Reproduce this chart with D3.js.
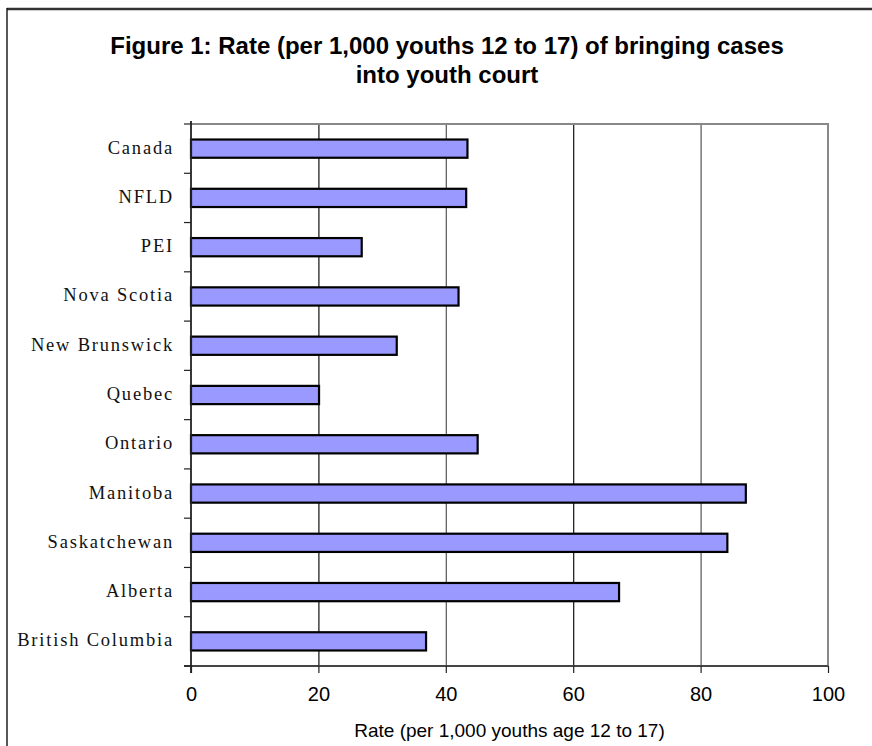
<!DOCTYPE html>
<html>
<head>
<meta charset="utf-8">
<script src="https://cdn.jsdelivr.net/npm/d3@7/dist/d3.min.js"></script>
<style>
  html, body { margin: 0; padding: 0; background: #fff; }
  svg { display: block; }
</style>
</head>
<body>
<svg id="chart" width="872" height="746"></svg>
<script>
// Provinces / regions, top to bottom
const categories = [
  "Canada", "NFLD", "PEI", "Nova Scotia", "New Brunswick", "Quebec",
  "Ontario", "Manitoba", "Saskatchewan", "Alberta", "British Columbia"
];
// Rate per 1,000 youths aged 12 to 17
const rates = [43.4, 43.2, 26.8, 42.0, 32.3, 20.1, 45.0, 87.1, 84.2, 67.2, 36.9];
const xTicks = [0, 20, 40, 60, 80, 100];
const titleLines = [
  "Figure 1: Rate (per 1,000 youths 12 to 17) of bringing cases",
  "into youth court"
];
const xAxisTitle = "Rate (per 1,000 youths age 12 to 17)";

const svg = d3.select("#chart");

const plot = { left: 191, right: 828, top: 124, bottom: 666 };

const x = d3.scaleLinear().domain([0, 100]).range([plot.left, plot.right]);
const y = d3.scaleBand().domain(categories).range([plot.top, plot.bottom]);

// Outer frame (top and left edges)
svg.append("line")
  .attr("x1", 7).attr("x2", 872).attr("y1", 9).attr("y2", 9)
  .attr("stroke", "#333").attr("stroke-width", 2.6);
svg.append("line")
  .attr("x1", 7).attr("x2", 7).attr("y1", 8).attr("y2", 746)
  .attr("stroke", "#111").attr("stroke-width", 1.4);

// Title
const title = svg.append("g")
  .attr("font-family", "Liberation Sans, Arial, sans-serif")
  .attr("font-weight", "bold")
  .attr("font-size", 24)
  .attr("fill", "#000")
  .attr("text-anchor", "middle");
title.selectAll("text").data(titleLines).join("text")
  .attr("x", 447)
  .attr("y", (d, i) => 54 + i * 29)
  .text(d => d);

// Vertical gridlines
svg.append("g").selectAll("line")
  .data(xTicks.filter(t => t > 0 && t < 100)).join("line")
  .attr("x1", d => x(d) + 0.5).attr("x2", d => x(d) + 0.5)
  .attr("y1", plot.top).attr("y2", plot.bottom)
  .attr("stroke", (d, i) => i % 2 ? "#555" : "#111").attr("stroke-width", 1.2);

// Plot frame top and right (grey)
svg.append("line")
  .attr("x1", plot.left).attr("x2", plot.right + 1)
  .attr("y1", plot.top).attr("y2", plot.top)
  .attr("stroke", "#888").attr("stroke-width", 2);
svg.append("line")
  .attr("x1", plot.right).attr("x2", plot.right)
  .attr("y1", plot.top).attr("y2", plot.bottom)
  .attr("stroke", "#888").attr("stroke-width", 2);

// Bars
const barH = y.bandwidth() * 0.37;
svg.append("g").selectAll("rect")
  .data(categories.map((c, i) => ({ c, v: rates[i] }))).join("rect")
  .attr("x", x(0))
  .attr("y", d => y(d.c) + y.bandwidth() / 2 - barH / 2)
  .attr("width", d => x(d.v) - x(0))
  .attr("height", barH)
  .attr("fill", "#9999FF")
  .attr("stroke", "#000")
  .attr("stroke-width", 2.2);

// X axis
const xAxis = svg.append("g")
  .attr("transform", `translate(0,${plot.bottom})`)
  .call(d3.axisBottom(x).tickValues(xTicks).tickSize(7).tickPadding(14).tickSizeOuter(0));
xAxis.select(".domain").attr("stroke", "#444").attr("stroke-width", 2)
  .attr("d", `M${plot.left - 7},0H${plot.right}`);
xAxis.selectAll(".tick line").attr("stroke", "#222").attr("stroke-width", 1.2);
xAxis.selectAll(".tick text")
  .attr("font-family", "Liberation Sans, Arial, sans-serif")
  .attr("font-size", 20)
  .attr("fill", "#000")
  .attr("dy", "0.72em");

// Y axis: ticks sit on band boundaries
const yAxisG = svg.append("g");
yAxisG.append("line")
  .attr("x1", plot.left).attr("x2", plot.left)
  .attr("y1", plot.top - 3).attr("y2", plot.bottom + 7)
  .attr("stroke", "#222").attr("stroke-width", 1.8);
const boundaries = categories.map(c => y(c)).concat([plot.bottom]);
yAxisG.selectAll("line.tick").data(boundaries).join("line")
  .attr("class", "tick")
  .attr("x1", plot.left - 7).attr("x2", plot.left)
  .attr("y1", d => d).attr("y2", d => d)
  .attr("stroke", "#222").attr("stroke-width", 1.2);

yAxisG.selectAll("text").data(categories).join("text")
  .attr("x", 174)
  .attr("y", d => y(d) + y.bandwidth() / 2 + 5)
  .attr("text-anchor", "end")
  .attr("font-family", "Liberation Serif, Times New Roman, serif")
  .attr("font-size", 18.5)
  .attr("letter-spacing", 1.8)
  .attr("fill", "#111")
  .text(d => d);

// X axis title
svg.append("text")
  .attr("x", (plot.left + plot.right) / 2)
  .attr("y", 737)
  .attr("text-anchor", "middle")
  .attr("font-family", "Liberation Sans, Arial, sans-serif")
  .attr("font-size", 19)
  .attr("fill", "#000")
  .text(xAxisTitle);
</script>
</body>
</html>
